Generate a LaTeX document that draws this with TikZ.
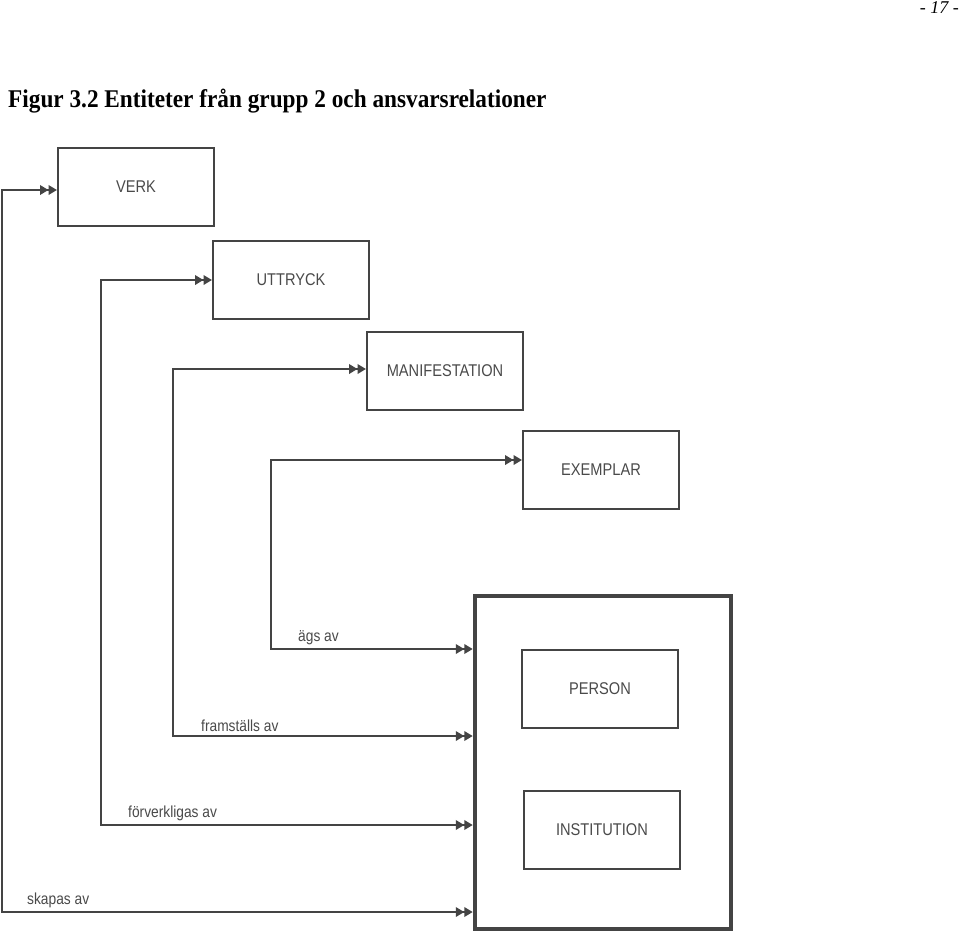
\documentclass[tikz,border=0pt]{standalone}
\usepackage{fontspec}
\usepackage{graphicx}
\setmainfont{Liberation Serif}
\newfontfamily\boxfont{Liberation Sans}
\usetikzlibrary{arrows.meta,calc}
\definecolor{linegray}{HTML}{444444}
\definecolor{textgray}{HTML}{4a4a4a}
\tikzset{
  entity/.style={draw=linegray, line width=2pt, minimum width=156pt, minimum height=78pt,
    inner sep=0pt, text=textgray, font=\boxfont\fontsize{17}{20}\selectfont},
  group/.style={draw=linegray, line width=4.5pt, minimum width=256pt, minimum height=333pt, inner sep=0pt},
  rel/.style={draw=linegray, line width=2pt,
    {Triangle[length=8.5pt,width=9.5pt]Triangle[length=8.5pt,width=9.5pt]}-{Triangle[length=8.5pt,width=9.5pt]Triangle[length=8.5pt,width=9.5pt]}},
  rellabel/.style={anchor=south west, inner sep=0pt, text=textgray, font=\boxfont\fontsize{16}{18}\selectfont}
}
\newcommand{\cond}[1]{\scalebox{0.86}[1]{#1}}
\begin{document}
\begin{tikzpicture}[x=1pt,y=-1pt]
\useasboundingbox[fill=white] (0,0) rectangle (960,934);
% header
\node[anchor=base east, inner sep=0pt, font=\itshape\fontsize{18}{20}\selectfont] (page) at (959,14) {- 17 -};
\node[anchor=base west, inner sep=0pt, font=\bfseries\fontsize{25.5}{28}\selectfont] (title) at (8,107) {\scalebox{0.912}[1]{Figur 3.2 Entiteter från grupp 2 och ansvarsrelationer}};
% entities
\node[entity] (verk) at (136,187) {\cond{VERK}};
\node[entity] (uttr) at (291,280) {\cond{UTTRYCK}};
\node[entity] (mani) at (445,371) {\cond{MANIFESTATION}};
\node[entity] (exem) at (601,470) {\cond{EXEMPLAR}};
\node[group] (grp) at (603,762.5) {};
\node[entity] (pers) at (600,689) {\cond{PERSON}};
\node[entity] (inst) at (602,830) {\cond{INSTITUTION}};
% corners
\coordinate (s1) at (2,190);
\coordinate (s2) at (2,912);
\coordinate (f1) at (101,280);
\coordinate (f2) at (101,825);
\coordinate (m1) at (173,369);
\coordinate (m2) at (173,736);
\coordinate (e1) at (271,460);
\coordinate (e2) at (271,649);
% relations
\draw[rel] (verk.west |- s1) -- (s1) -- (s2) -- (s2 -| grp.west);
\draw[rel] (uttr.west |- f1) -- (f1) -- (f2) -- (f2 -| grp.west);
\draw[rel] (mani.west |- m1) -- (m1) -- (m2) -- (m2 -| grp.west);
\draw[rel] (exem.west |- e1) -- (e1) -- (e2) -- (e2 -| grp.west);
% labels
\node[rellabel] (lags) at ($(e2)+(27,-4)$) {\cond{ägs av}};
\node[rellabel] (lfra) at ($(m2)+(28,-4)$) {\cond{framställs av}};
\node[rellabel] (lfor) at ($(f2)+(27,-4)$) {\cond{förverkligas av}};
\node[rellabel] (lska) at ($(s2)+(25,-4)$) {\cond{skapas av}};
\end{tikzpicture}
\end{document}
